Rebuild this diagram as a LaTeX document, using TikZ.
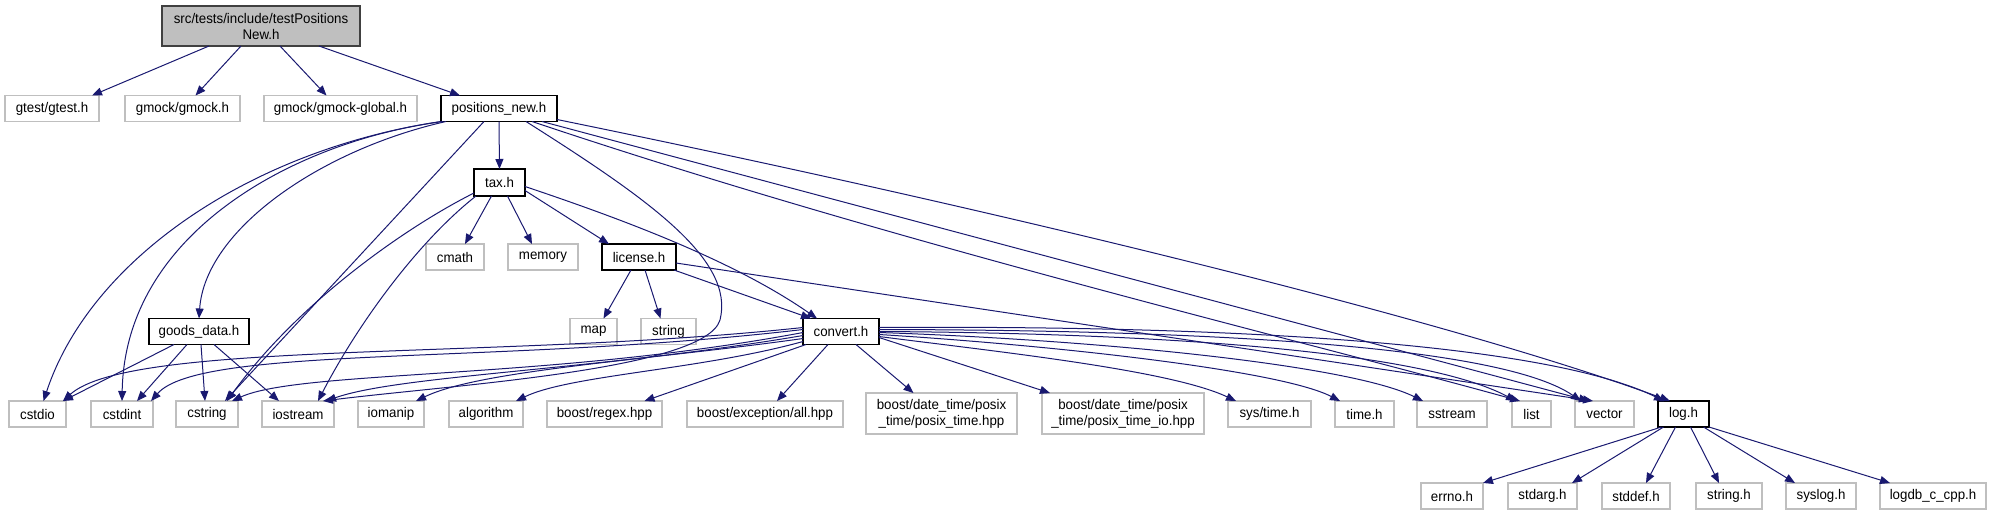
\documentclass[tikz,border=0pt]{standalone}
\usepackage{fontspec}
\setmainfont{Liberation Sans}[FakeStretch=0.95]
\usetikzlibrary{arrows.meta}
\definecolor{edgeblue}{RGB}{25,25,112}
\definecolor{extgray}{RGB}{191,191,191}
\definecolor{rootfill}{RGB}{191,191,191}
\definecolor{rootdraw}{RGB}{64,64,64}
\begin{document}
\begin{tikzpicture}[x=1pt,y=-1pt,
  box/.style={rectangle, inner sep=0pt, outer sep=0pt, minimum height=26pt, line width=1.2pt, font=\fontsize{14}{16}\selectfont, align=center, fill=white},
  extbox/.style={box, draw=extgray},
  intbox/.style={box, draw=black},
  rootbox/.style={box, draw=rootdraw, fill=rootfill, minimum height=40pt},
  twoline/.style={extbox, minimum height=41pt},
  dep/.style={draw=edgeblue, line width=1pt, -{Triangle[length=10pt,width=8pt]}},
]
\useasboundingbox (0,0) rectangle (1993,515);
% nodes
\node[rootbox, minimum width=198pt] (root) at (261,26) {src/tests/include/testPositions\\New.h};
\node[extbox, minimum width=94pt] (gtest) at (52,108.5) {gtest/gtest.h};
\node[extbox, minimum width=115pt] (gmock) at (182.5,108.5) {gmock/gmock.h};
\node[extbox, minimum width=153pt] (gglobal) at (340.5,108.5) {gmock/gmock-global.h};
\node[intbox, minimum width=116pt] (pos) at (499,108.5) {positions\_new.h};
\node[intbox, minimum width=51pt, minimum height=27pt] (tax) at (499.5,182.5) {tax.h};
\node[extbox, minimum width=58pt] (cmath) at (455,257) {cmath};
\node[extbox, minimum width=70pt] (memory) at (543,257) {memory};
\node[intbox, minimum width=74pt] (license) at (639,257) {license.h};
\node[intbox, minimum width=100pt] (goods) at (199,331.5) {goods\_data.h};
\node[extbox, minimum width=47pt] (map) at (593.5,331.5) {map};
\node[extbox, minimum width=55pt] (string) at (668.5,331.5) {string};
\node[intbox, minimum width=76pt] (convert) at (841,331.5) {convert.h};
\node[extbox, minimum width=57pt] (cstdio) at (37.5,414) {cstdio};
\node[extbox, minimum width=62pt] (cstdint) at (122,414) {cstdint};
\node[extbox, minimum width=62pt] (cstring) at (207,414) {cstring};
\node[extbox, minimum width=72pt] (iostream) at (298,414) {iostream};
\node[extbox, minimum width=66pt] (iomanip) at (391,414) {iomanip};
\node[extbox, minimum width=74pt] (algorithm) at (486,414) {algorithm};
\node[extbox, minimum width=115pt] (regex) at (604.5,414) {boost/regex.hpp};
\node[extbox, minimum width=156pt] (exception) at (765,414) {boost/exception/all.hpp};
\node[twoline, minimum width=151pt] (ptime) at (941.5,413.5) {boost/date\_time/posix\\\_time/posix\_time.hpp};
\node[twoline, minimum width=162pt] (ptimeio) at (1123,413.5) {boost/date\_time/posix\\\_time/posix\_time\_io.hpp};
\node[extbox, minimum width=83pt] (systime) at (1269.5,414) {sys/time.h};
\node[extbox, minimum width=59pt] (timeh) at (1364.5,414) {time.h};
\node[extbox, minimum width=70pt] (sstream) at (1452,414) {sstream};
\node[extbox, minimum width=39pt] (list) at (1531.5,414) {list};
\node[extbox, minimum width=59pt] (vector) at (1604.5,414) {vector};
\node[intbox, minimum width=51pt] (log) at (1683.5,414) {log.h};
\node[extbox, minimum width=62pt] (errno) at (1452,496) {errno.h};
\node[extbox, minimum width=69pt] (stdarg) at (1542.5,496) {stdarg.h};
\node[extbox, minimum width=68pt] (stddef) at (1636,496) {stddef.h};
\node[extbox, minimum width=66pt] (stringh) at (1729,496) {string.h};
\node[extbox, minimum width=70pt] (syslog) at (1821,496) {syslog.h};
\node[extbox, minimum width=106pt] (logdb) at (1933,496) {logdb\_c\_cpp.h};
% root
\draw[dep] ([xshift=-52pt]root.south) -- ([xshift=40pt]gtest.north);
\draw[dep] ([xshift=-20pt]root.south) -- ([xshift=13pt]gmock.north);
\draw[dep] ([xshift=19pt]root.south) -- ([xshift=-14pt]gglobal.north);
\draw[dep] ([xshift=58pt]root.south) -- ([xshift=-39pt]pos.north);
% positions_new.h
\draw[dep] (pos.south) -- (tax.north);
\draw[dep] (pos.south west) .. controls (250,150) and (90,260) .. ([xshift=6pt]cstdio.north);
\draw[dep] ([xshift=2pt]pos.south west) .. controls (300,140) and (125,230) .. (cstdint.north);
\draw[dep] ([xshift=5pt]pos.south west) .. controls (320,150) and (205,230) .. (goods.north);
\draw[dep] ([xshift=-15pt]pos.south) -- ([xshift=18pt]cstring.north);
\draw[dep] ([xshift=27pt]pos.south) .. controls (650,200) and (735,260) .. (720,320) .. controls (705,370) and (450,385) .. ([xshift=25pt]iostream.north);
\draw[dep] ([xshift=-25pt]pos.south east) .. controls (900,245) and (1300,340) .. ([xshift=8pt]list.north west);
\draw[dep] ([xshift=-15pt]pos.south east) -- ([xshift=14pt]vector.north west);
\draw[dep] ([yshift=2pt]pos.south east) .. controls (1000,210) and (1450,320) .. ([xshift=12pt]log.north west);
% tax.h
\draw[dep] ([xshift=-8pt]tax.south) -- ([xshift=10pt]cmath.north);
\draw[dep] ([xshift=8pt]tax.south) -- ([xshift=-11pt]memory.north);
\draw[dep] ([yshift=-8pt]tax.east) -- ([xshift=7pt]license.north west);
\draw[dep] ([yshift=-4pt]tax.east) .. controls (640,225) and (740,265) .. ([xshift=14pt]convert.north west);
\draw[dep] ([yshift=3pt]tax.south west) .. controls (410,225) and (300,300) .. ([xshift=20pt]cstring.north);
\draw[dep] ([xshift=2pt]tax.south west) .. controls (420,240) and (360,320) .. ([xshift=20pt]iostream.north);
% license.h
\draw[dep] ([xshift=-8pt]license.south) -- ([xshift=10pt]map.north);
\draw[dep] ([xshift=6pt]license.south) -- ([xshift=-8pt]string.north);
\draw[dep] ([xshift=-2pt]license.south east) -- ([xshift=8pt]convert.north west);
\draw[dep] ([yshift=-6pt]license.east) -- ([xshift=18pt]vector.north west);
% goods_data.h
\draw[dep] ([xshift=-25pt]goods.south) -- ([xshift=-3pt]cstdio.north east);
\draw[dep] ([xshift=-12pt]goods.south) -- ([xshift=15pt]cstdint.north);
\draw[dep] ([xshift=2pt]goods.south) -- ([xshift=-2pt]cstring.north);
\draw[dep] ([xshift=15pt]goods.south) -- ([xshift=-19pt]iostream.north);
% convert.h left
\draw[dep] ([yshift=4pt]convert.west) .. controls (500,360) and (130,340) .. ([xshift=-3pt]cstdio.north east);
\draw[dep] ([yshift=2pt]convert.west) .. controls (500,365) and (200,345) .. ([xshift=-2pt]cstdint.north east);
\draw[dep] ([yshift=-1pt]convert.west) .. controls (550,380) and (300,370) .. ([xshift=-6pt]cstring.north east);
\draw[dep] ([yshift=-4pt]convert.west) .. controls (600,370) and (400,375) .. ([xshift=28pt]iostream.north);
\draw[dep] ([yshift=-7pt]convert.west) .. controls (650,360) and (480,370) .. ([xshift=25pt]iomanip.north);
\draw[dep] ([yshift=-10pt]convert.west) .. controls (700,370) and (570,375) .. ([xshift=30pt]algorithm.north);
\draw[dep] ([xshift=3pt]convert.south west) -- ([xshift=40pt]regex.north);
\draw[dep] ([xshift=-13pt]convert.south) -- ([xshift=12pt]exception.north);
% convert.h right
\draw[dep] ([xshift=15pt]convert.south) -- ([xshift=-28pt]ptime.north);
\draw[dep] ([yshift=-6pt]convert.east) -- ([xshift=8pt]ptimeio.north west);
\draw[dep] ([yshift=-5pt]convert.east) .. controls (1000,352) and (1170,370) .. ([xshift=8pt]systime.north west);
\draw[dep] ([yshift=-3pt]convert.east) .. controls (1050,345) and (1280,370) .. ([xshift=5pt]timeh.north west);
\draw[dep] ([yshift=-1pt]convert.east) .. controls (1100,340) and (1350,365) .. ([xshift=6pt]sstream.north west);
\draw[dep] (convert.east) .. controls (1150,333) and (1420,350) .. ([xshift=4pt]list.north west);
\draw[dep] ([yshift=2pt]convert.east) .. controls (1200,330) and (1500,345) .. ([xshift=6pt]vector.north west);
\draw[dep] ([yshift=4pt]convert.east) .. controls (1250,325) and (1550,345) .. ([xshift=6pt]log.north west);
% log.h
\draw[dep] ([xshift=-22pt]log.south) -- (errno.north east);
\draw[dep] ([xshift=-20pt]log.south) -- ([xshift=-5pt]stdarg.north east);
\draw[dep] ([xshift=-8pt]log.south) -- ([xshift=10pt]stddef.north);
\draw[dep] ([xshift=7pt]log.south) -- ([xshift=-10pt]stringh.north);
\draw[dep] ([xshift=20pt]log.south) -- ([xshift=-26pt]syslog.north);
\draw[dep] (log.south east) -- ([xshift=10pt]logdb.north west);
\end{tikzpicture}
\end{document}
